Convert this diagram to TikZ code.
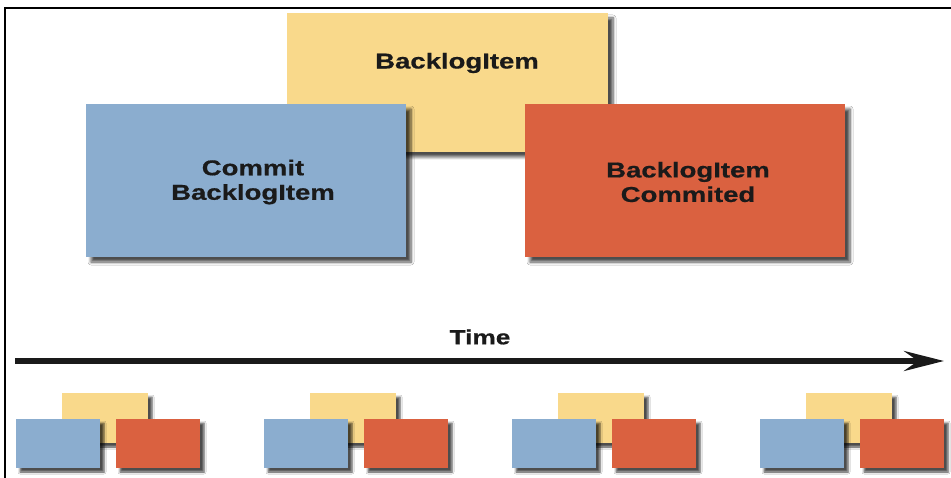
\documentclass[tikz,border=0pt]{standalone}
\usepackage{fontspec}
\setmainfont{Liberation Sans}
\newfontfamily\labelfont{Liberation Sans}[FakeStretch=1.28,FakeBold=0.6]
\usetikzlibrary{arrows.meta,shadows.blur}
\definecolor{itemyellow}{HTML}{F9D98B}
\definecolor{commitblue}{HTML}{8BADCF}
\definecolor{doneorange}{HTML}{DA6140}
\definecolor{ink}{HTML}{1A1A1A}
\tikzset{
  cardtext/.style={text=ink, align=center,
    font=\labelfont\bfseries\fontsize{21.5}{24.5}\selectfont},
  card/.style={rectangle, inner sep=0pt, outer sep=0pt, anchor=north west,
    blur shadow={shadow xshift=5pt, shadow yshift=-5pt, shadow blur steps=6,
      shadow blur radius=3pt, shadow opacity=70}},
  minicard/.style={rectangle, inner sep=0pt, outer sep=0pt, anchor=north west,
    minimum width=84pt, minimum height=49pt,
    blur shadow={shadow xshift=4pt, shadow yshift=-4pt, shadow blur steps=5,
      shadow blur radius=2pt, shadow opacity=70}},
  frame/.style={line width=2.5pt, draw=black},
  timeline/.style={line width=5.5pt, draw=ink,
    -{Stealth[length=40pt, width=20pt, inset=14pt]}}
}
\begin{document}
\begin{tikzpicture}[x=1pt, y=-1pt]
  \useasboundingbox (0,0) rectangle (951,478);
  \fill[white] (0,0) rectangle (951,478);

  % frame along the top and left edges
  \draw[frame] (951,8) -- (5,8) -- (5,478);

  % the three events
  \node[card, fill=itemyellow, minimum width=321pt, minimum height=139pt] (item) at (287,13) {};
  \node[cardtext] (itemlabel) at (457,63) {BacklogItem};
  \node[card, fill=commitblue, minimum width=320pt, minimum height=153pt] (commit) at (86,104) {};
  \node[cardtext] (commitlabel) at (253,182) {Commit\\BacklogItem};
  \node[card, fill=doneorange, minimum width=320pt, minimum height=153pt] (committed) at (525,104) {};
  \node[cardtext] (committedlabel) at (688,182) {BacklogItem\\Commited};

  % time axis
  \node[cardtext, font=\labelfont\bfseries\fontsize{20.5}{24}\selectfont] (timelabel) at (480,337) {Time};
  \coordinate (tstart) at (15,361);
  \coordinate (tend) at (944,361);
  \draw[timeline] (tstart) -- (tend);

  % repeated event triples along the axis
  \foreach \i in {0,1,2,3}{
    \pgfmathsetmacro{\dx}{248*\i}
    \node[minicard, fill=itemyellow, minimum height=50pt, minimum width=86pt] (y\i) at (62+\dx,393) {};
    \node[minicard, fill=commitblue] (b\i) at (16+\dx,419) {};
    \node[minicard, fill=doneorange] (r\i) at (116+\dx,419) {};
  }
\end{tikzpicture}
\end{document}
